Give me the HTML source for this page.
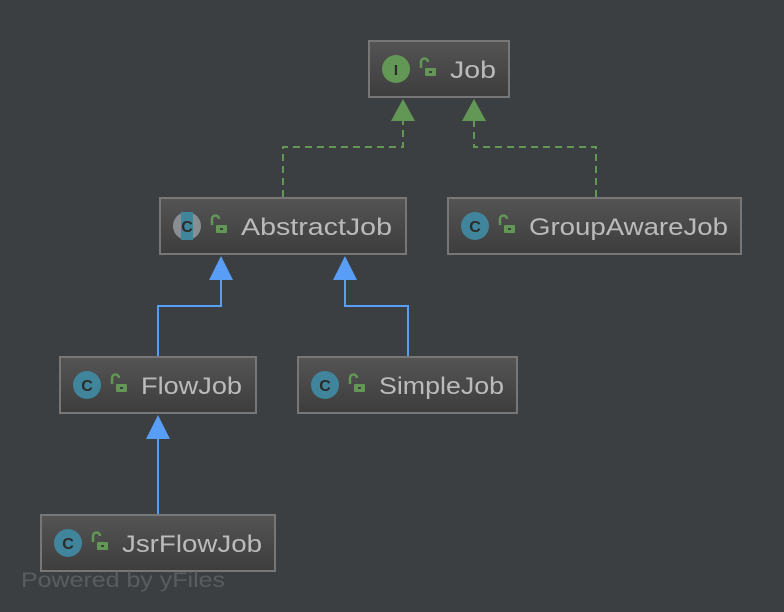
<!DOCTYPE html>
<html><head><meta charset="utf-8"><style>
html,body{margin:0;padding:0;background:#3c3f41;}
svg{display:block}
text{font-family:"Liberation Sans","DejaVu Sans",sans-serif;}
</style></head><body>
<svg width="784" height="612" viewBox="0 0 784 612" xmlns="http://www.w3.org/2000/svg">
<defs>
<linearGradient id="g" x1="0" y1="0" x2="0" y2="1">
<stop offset="0" stop-color="#545454"/><stop offset="1" stop-color="#3d3d3d"/>
</linearGradient>
<g id="lock"><path d="M-6,-1 v-6 a3.5,3.5 0 0 1 7,0" fill="none" stroke="#629755" stroke-width="2.5"/><rect x="-2" y="-1" width="11" height="8" rx="1" fill="#629755"/><rect x="2" y="2" width="3" height="2" fill="#3c3f41"/></g>
</defs>
<rect width="784" height="612" fill="#3c3f41"/>
<g fill="none" stroke="#629755" stroke-width="2" stroke-dasharray="7,5">
<path d="M283,197 V147 H403 V120"/>
<path d="M596,197 V147 H474 V120"/>
</g>
<polygon points="403,99 391,121 415,121" fill="#629755"/>
<polygon points="474,99 462,121 486,121" fill="#629755"/>
<g fill="none" stroke="#589df6" stroke-width="2">
<path d="M158,357 V306 H221 V278"/>
<path d="M408,357 V306 H345 V278"/>
<path d="M158,515 V436"/>
</g>
<polygon points="221,256 209,280 233,280" fill="#589df6"/>
<polygon points="345,256 333,280 357,280" fill="#589df6"/>
<polygon points="158,415 146,439 170,439" fill="#589df6"/>
<g stroke="#777" stroke-width="2" fill="url(#g)">
<rect x="369" y="41" width="140" height="56"/>
<rect x="160" y="198" width="246" height="56"/>
<rect x="448" y="198" width="293" height="56"/>
<rect x="60" y="357" width="196" height="56"/>
<rect x="298" y="357" width="219" height="56"/>
<rect x="41" y="515" width="234" height="56"/>
</g>
<circle cx="396" cy="69" r="14" fill="#629755"/>
<text x="396" y="75" font-size="15" font-weight="bold" fill="#2b2b2b" text-anchor="middle" font-family="Liberation Serif">I</text>
<circle cx="187" cy="226" r="14" fill="#888e92"/>
<rect x="181" y="212" width="12" height="28" fill="#40859c"/>
<text x="187" y="232" font-size="16" font-weight="bold" fill="#2b2b2b" text-anchor="middle">C</text>
<g fill="#40859c"><circle cx="475" cy="226" r="14"/><circle cx="87" cy="385" r="14"/><circle cx="325" cy="385" r="14"/><circle cx="68" cy="543" r="14"/></g>
<g font-size="16" font-weight="bold" fill="#2b2b2b" text-anchor="middle">
<text x="475" y="232">C</text><text x="87" y="391">C</text><text x="325" y="391">C</text><text x="68" y="549">C</text>
</g>
<use href="#lock" x="427" y="69"/>
<use href="#lock" x="218" y="226"/>
<use href="#lock" x="506" y="226"/>
<use href="#lock" x="118" y="385"/>
<use href="#lock" x="356" y="385"/>
<use href="#lock" x="99" y="543"/>
<g font-size="24" fill="#bbbbbb" lengthAdjust="spacingAndGlyphs">
<text x="450" y="78" textLength="46" lengthAdjust="spacingAndGlyphs">Job</text>
<text x="241" y="235" textLength="151" lengthAdjust="spacingAndGlyphs">AbstractJob</text>
<text x="529" y="235" textLength="199" lengthAdjust="spacingAndGlyphs">GroupAwareJob</text>
<text x="141" y="394" textLength="101" lengthAdjust="spacingAndGlyphs">FlowJob</text>
<text x="379" y="394" textLength="125" lengthAdjust="spacingAndGlyphs">SimpleJob</text>
<text x="122" y="552" textLength="140" lengthAdjust="spacingAndGlyphs">JsrFlowJob</text>
</g>
<text x="21" y="587" font-size="21" fill="#5a5d5f" textLength="204" lengthAdjust="spacingAndGlyphs">Powered by yFiles</text>
</svg>
</body></html>
